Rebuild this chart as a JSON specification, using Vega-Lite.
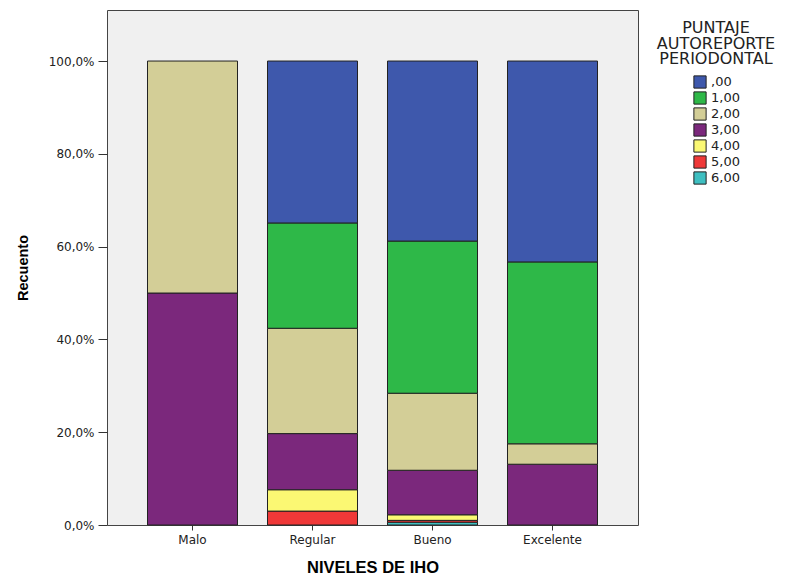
{
  "$schema": "https://vega.github.io/schema/vega-lite/v6.json",
  "width": 531,
  "height": 515,
  "autosize": "none",
  "padding": {"left": 107, "top": 10, "right": 148, "bottom": 53},
  "background": "white",
  "config": {
    "font": "DejaVu Sans",
    "view": {"fill": "#F0F0F0", "stroke": "#444444", "strokeWidth": 1}
  },
  "data": {
    "values": [
      {"nivel": "Malo", "puntaje": "3,00", "pct": 50.0},
      {"nivel": "Malo", "puntaje": "2,00", "pct": 50.0},
      {"nivel": "Regular", "puntaje": "5,00", "pct": 3.0},
      {"nivel": "Regular", "puntaje": "4,00", "pct": 4.6},
      {"nivel": "Regular", "puntaje": "3,00", "pct": 12.1},
      {"nivel": "Regular", "puntaje": "2,00", "pct": 22.7},
      {"nivel": "Regular", "puntaje": "1,00", "pct": 22.7},
      {"nivel": "Regular", "puntaje": ",00", "pct": 34.9},
      {"nivel": "Bueno", "puntaje": "6,00", "pct": 0.6},
      {"nivel": "Bueno", "puntaje": "5,00", "pct": 0.4},
      {"nivel": "Bueno", "puntaje": "4,00", "pct": 1.2},
      {"nivel": "Bueno", "puntaje": "3,00", "pct": 9.6},
      {"nivel": "Bueno", "puntaje": "2,00", "pct": 16.6},
      {"nivel": "Bueno", "puntaje": "1,00", "pct": 32.8},
      {"nivel": "Bueno", "puntaje": ",00", "pct": 38.8},
      {"nivel": "Excelente", "puntaje": "3,00", "pct": 13.1},
      {"nivel": "Excelente", "puntaje": "2,00", "pct": 4.4},
      {"nivel": "Excelente", "puntaje": "1,00", "pct": 39.2},
      {"nivel": "Excelente", "puntaje": ",00", "pct": 43.3}
    ]
  },
  "mark": {"type": "bar", "stroke": "#222222", "strokeWidth": 1},
  "encoding": {
    "x": {
      "field": "nivel",
      "type": "nominal",
      "sort": ["Malo", "Regular", "Bueno", "Excelente"],
      "scale": {"paddingInner": 0.25, "paddingOuter": 0.3375},
      "axis": {
        "title": "NIVELES DE IHO",
        "titleFont": "Liberation Sans",
        "titleFontSize": 16.5,
        "titleFontWeight": "bold",
        "titleColor": "#000000",
        "titlePadding": 14,
        "labelAngle": 0,
        "labelFontSize": 12,
        "labelColor": "#222222",
        "labelPadding": 4,
        "tickColor": "#333333",
        "tickSize": 5,
        "domain": false
      }
    },
    "y": {
      "field": "pct",
      "type": "quantitative",
      "stack": "zero",
      "scale": {"domain": [0, 111], "nice": false},
      "axis": {
        "title": "Recuento",
        "titleFont": "Liberation Sans",
        "titleFontSize": 14.5,
        "titleFontWeight": "bold",
        "titleColor": "#000000",
        "titlePadding": 18,
        "values": [0, 20, 40, 60, 80, 100],
        "labelExpr": "replace(format(datum.value, '.1f'), '.', ',') + '%'",
        "labelFontSize": 12,
        "labelColor": "#222222",
        "labelPadding": 4,
        "tickColor": "#333333",
        "tickSize": 9,
        "grid": false,
        "domain": false
      }
    },
    "color": {
      "field": "puntaje",
      "type": "nominal",
      "scale": {
        "domain": [",00", "1,00", "2,00", "3,00", "4,00", "5,00", "6,00"],
        "range": ["#3E58AC", "#2EB848", "#D3CE97", "#7B287C", "#FBF873", "#EF3838", "#3EBFC1"]
      },
      "legend": {
        "title": ["PUNTAJE", "AUTOREPORTE", "PERIODONTAL"],
        "titleFont": "DejaVu Sans",
        "titleFontSize": 16,
        "titleFontWeight": "normal",
        "titleColor": "#222222",
        "titleAlign": "center",
        "titleAnchor": "middle",
        "titleLineHeight": 15.5,
        "titlePadding": 8,
        "orient": "none",
        "legendX": 550,
        "legendY": 10,
        "symbolType": "square",
        "symbolSize": 150,
        "symbolStrokeColor": "#222222",
        "symbolStrokeWidth": 1,
        "labelFontSize": 13,
        "labelColor": "#222222",
        "labelOffset": 4,
        "rowPadding": -3
      }
    },
    "order": {"field": "puntaje", "sort": "descending"}
  }
}
